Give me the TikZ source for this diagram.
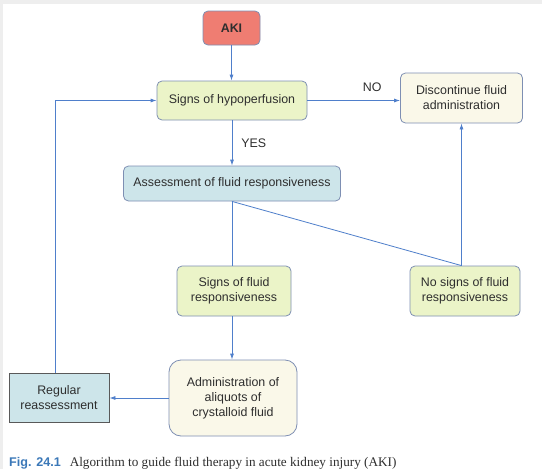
\documentclass[tikz,border=0pt]{standalone}
\usepackage{fontspec}
\setmainfont{Liberation Serif}
\setsansfont{Liberation Sans}
\usetikzlibrary{arrows.meta}
\definecolor{flowline}{HTML}{4F7FCB}
\definecolor{boxedge}{HTML}{7E8FB3}
\definecolor{akifill}{HTML}{EF7D72}
\definecolor{greenfill}{HTML}{EBF4C8}
\definecolor{creamfill}{HTML}{FAF8E9}
\definecolor{bluefill}{HTML}{CDE5EA}
\definecolor{txt}{HTML}{2E2E2E}
\definecolor{capblue}{HTML}{3B78B8}
\definecolor{frame}{HTML}{EEEEEE}
\tikzset{
  box/.style={draw=boxedge, line width=0.8pt, rounded corners=5pt, align=center,
    text=txt, font=\sffamily\fontsize{12.4}{15}\selectfont, inner sep=2pt},
  flow/.style={draw=flowline, line width=0.8pt},
  flowarrow/.style={flow, -{Latex[length=6pt,width=4pt]}},
  lbl/.style={text=txt, font=\sffamily\fontsize{12.4}{15}\selectfont, inner sep=0pt},
}
\begin{document}
\begin{tikzpicture}[x=1pt,y=-1pt]
  \useasboundingbox (0,0) rectangle (542,469);
  \fill[white] (0,0) rectangle (542,469);
  \fill[frame] (0,0) rectangle (542,4);
  \fill[frame] (0,0) rectangle (3,469);

  % nodes
  \node[box, fill=akifill, font=\sffamily\bfseries\fontsize{12.4}{15}\selectfont,
        minimum width=57pt, minimum height=34pt] (aki) at (231.5,28) {AKI};
  \node[box, fill=greenfill, minimum width=150pt, minimum height=39pt] (hypo) at (232,100.5) {Signs of hypoperfusion};
  \node[box, fill=creamfill, minimum width=122pt, minimum height=50pt] (disc) at (461.5,98) {Discontinue fluid\\administration};
  \node[box, fill=bluefill, minimum width=217pt, minimum height=35pt] (assess) at (232,183.5) {Assessment of fluid responsiveness};
  \node[box, fill=greenfill, minimum width=114pt, minimum height=50pt] (yesresp) at (234,291) {Signs of fluid\\responsiveness};
  \node[box, fill=greenfill, minimum width=110pt, minimum height=50pt] (noresp) at (465,291) {No signs of fluid\\responsiveness};
  \node[box, fill=creamfill, rounded corners=12pt, minimum width=128pt, minimum height=76pt] (admin) at (233,398) {Administration of\\aliquots of\\crystalloid fluid};
  \node[box, fill=bluefill, draw=black!65, rounded corners=0pt, minimum width=100pt, minimum height=49pt] (regular) at (59,397.5) {Regular\\reassessment};

  % connectors
  \draw[flowarrow] (aki.south) -- (aki.south |- hypo.north);
  \draw[flowarrow] (hypo.east) -- (disc.west |- hypo.east) node[lbl, pos=0.7, above=8pt] {NO};
  \draw[flowarrow] (hypo.south) -- (assess.north) node[lbl, pos=0.5, right=9pt] {YES};
  \draw[flow] (assess.south) -- (assess.south |- yesresp.north);
  \coordinate (nocorner) at (disc.south |- noresp.north);
  \draw[flow] (assess.south) -- (nocorner);
  \draw[flowarrow] (nocorner) -- (disc.south);
  \draw[flowarrow] (assess.south |- yesresp.south) -- (assess.south |- admin.north);
  \draw[flowarrow] (admin.west) -- (regular.east |- admin.west);
  \draw[flowarrow] ([xshift=-4pt]regular.north) |- (hypo.west);

  % caption
  \node[anchor=base west, inner sep=0pt] (caption) at (9,466.5)
    {{\sffamily\bfseries\color{capblue}\fontsize{12.6}{14}\selectfont Fig. 24.1}\hspace{9pt}{\color{txt}\fontsize{13.2}{15}\selectfont Algorithm to guide fluid therapy in acute kidney injury (AKI)}};
\end{tikzpicture}
\end{document}
